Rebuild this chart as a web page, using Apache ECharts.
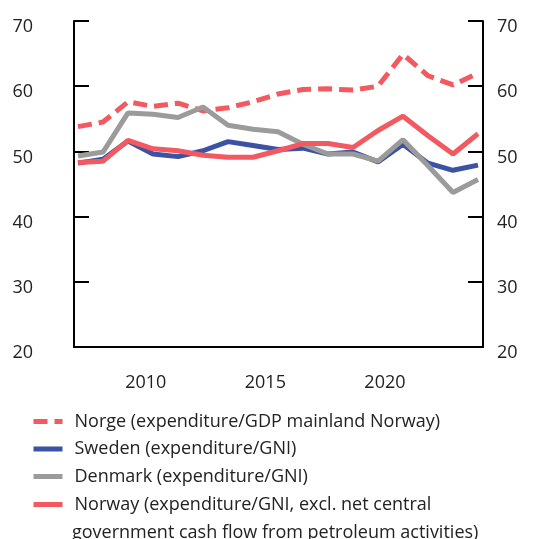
<!DOCTYPE html>
<html>
<head>
<meta charset="utf-8">
<script src="https://cdn.jsdelivr.net/npm/echarts@6/dist/echarts.min.js"></script>
<style>
    html, body { margin: 0; padding: 0; background: #fff; }
    #chart { width: 548px; height: 539px; }
</style>
</head>
<body>
<div id="chart"></div>
<script>
// data
var years = [2007, 2008, 2009, 2010, 2011, 2012, 2013, 2014, 2015, 2016, 2017, 2018, 2019, 2020, 2021, 2022, 2023];
var norgeMainland = [53.8, 54.5, 57.6, 56.9, 57.4, 56.2, 56.7, 57.6, 58.8, 59.5, 59.6, 59.4, 60.0, 64.9, 61.6, 60.2, 62.0];
var sweden = [48.2, 48.8, 51.6, 49.6, 49.2, 50.1, 51.5, 50.9, 50.3, 50.5, 49.6, 49.9, 48.4, 51.1, 48.2, 47.1, 47.9];
var denmark = [49.3, 49.9, 55.9, 55.7, 55.2, 56.8, 54.0, 53.4, 53.0, 51.1, 49.6, 49.6, 48.5, 51.8, 47.8, 43.7, 45.7];
var norwayGni = [48.3, 48.5, 51.7, 50.4, 50.1, 49.4, 49.1, 49.1, 50.1, 51.2, 51.2, 50.6, 53.2, 55.4, 52.4, 49.6, 52.7];
var xTickLabels = [2010, 2015, 2020];
var seriesNames = [
    'Norge (expenditure/GDP mainland Norway)',
    'Sweden (expenditure/GNI)',
    'Denmark (expenditure/GNI)',
    'Norway (expenditure/GNI, excl. net central government cash flow from petroleum activities)'
];

var red = '#f25a60';
var blue = '#3b52a5';
var grey = '#9b9b9b';
var font = '"Open Sans", "Noto Sans", sans-serif';
var fs = 18;

function pairs(vals) {
    return vals.map(function (v, i) { return [years[i], v]; });
}

function lineSeries(name, vals, color, dashed) {
    return {
        name: name,
        type: 'line',
        xAxisIndex: 0,
        data: pairs(vals),
        showSymbol: false,
        symbol: 'none',
        lineStyle: { color: color, width: 5, type: dashed ? [14, 7] : 'solid' },
        itemStyle: { color: color },
        emphasis: { disabled: true },
        animation: false
    };
}

var legendBase = {
    orient: 'vertical',
    left: 31,
    padding: 0,
    itemGap: 6.5,
    itemWidth: 29,
    itemHeight: 14,
    itemStyle: { color: 'rgba(0,0,0,0)', borderWidth: 0 },
    lineStyle: { width: 5 },
    textStyle: {
        fontFamily: font, fontSize: fs, color: '#222', lineHeight: 21,
        rich: { a: { fontFamily: font, fontSize: fs, color: '#222', padding: [0, 0, 0, 7] } }
    }
};

// labels sit a few px below their ticks in the reference
var yLabel = { fontSize: fs, color: '#222', fontFamily: font, verticalAlign: 'top', lineHeight: 12 };

var chart = echarts.init(document.getElementById('chart'));
chart.setOption({
    animation: false,
    textStyle: { fontFamily: font },
    grid: { left: 74, right: 65, top: 21, bottom: 192 },
    legend: [
        Object.assign({}, legendBase, {
            data: seriesNames.slice(0, 3),
            top: 411,
            formatter: function (name) { return '{a|' + name + '}'; }
        }),
        Object.assign({}, legendBase, {
            data: [seriesNames[3]],
            top: 494,
            formatter: function () { return '{a|Norway (expenditure/GNI, excl. net central}'; }
        })
    ],
    graphic: [{
        type: 'text',
        left: 72,
        top: 524,
        style: {
            text: 'government cash flow from petroleum activities)',
            fontFamily: font,
            fontSize: fs,
            fill: '#222'
        }
    }],
    xAxis: [
        {
            type: 'value',
            min: 2006.84,
            max: 2023.2,
            axisLine: { show: true, lineStyle: { color: '#000', width: 2 } },
            axisTick: { show: false },
            axisLabel: { show: false },
            splitLine: { show: false }
        },
        {
            type: 'value',
            position: 'bottom',
            min: 2007,
            max: 2024.1,
            axisLine: { show: false },
            axisTick: { show: false },
            splitLine: { show: false },
            axisLabel: {
                customValues: xTickLabels,
                formatter: function (v) { return String(v); },
                margin: 27,
                fontSize: fs,
                color: '#222',
                fontFamily: font
            }
        }
    ],
    yAxis: [
        {
            type: 'value',
            position: 'left',
            min: 20,
            max: 70,
            interval: 10,
            axisLine: { show: true, lineStyle: { color: '#000', width: 2 } },
            axisTick: { show: true, inside: true, length: 15, lineStyle: { color: '#000', width: 2 } },
            axisLabel: Object.assign({ margin: 41 }, yLabel),
            splitLine: { show: false }
        },
        {
            type: 'value',
            position: 'right',
            min: 20,
            max: 70,
            interval: 10,
            axisLine: { show: true, lineStyle: { color: '#000', width: 2 } },
            axisTick: { show: true, inside: true, length: 15, lineStyle: { color: '#000', width: 2 } },
            axisLabel: Object.assign({ margin: 14 }, yLabel),
            splitLine: { show: false }
        }
    ],
    series: [
        lineSeries(seriesNames[0], norgeMainland, red, true),
        lineSeries(seriesNames[1], sweden, blue, false),
        lineSeries(seriesNames[2], denmark, grey, false),
        lineSeries(seriesNames[3], norwayGni, red, false)
    ]
});
</script>
</body>
</html>
